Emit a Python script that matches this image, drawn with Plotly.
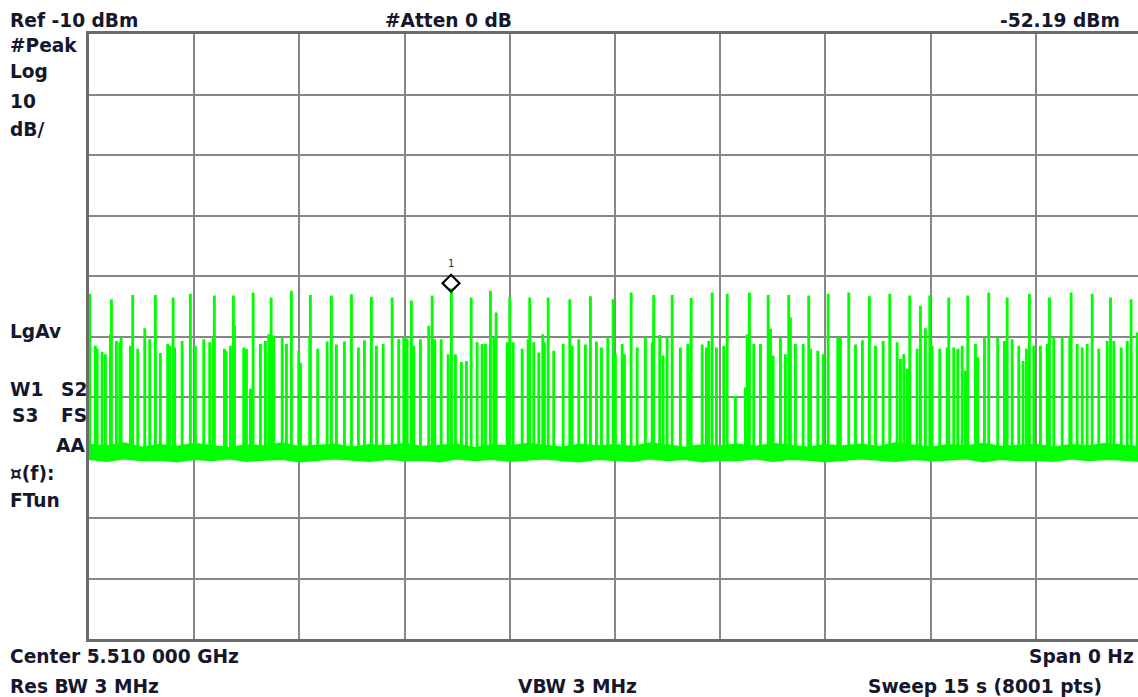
import plotly.graph_objects as go
import numpy as np

# ---------------- data ----------------
REF_LEVEL_DBM = -10
DB_PER_DIV = 10
SWEEP_S = 15

spike_times_s = [
    0.005, 0.086, 0.110, 0.181, 0.228, 0.299, 0.314, 0.385, 0.432, 0.452,
    0.585, 0.617, 0.689, 0.789, 0.860, 0.941, 1.012, 1.116, 1.145, 1.193,
    1.216, 1.322, 1.440, 1.511, 1.630, 1.715, 1.764, 1.782, 1.925, 1.949,
    2.011, 2.053, 2.068, 2.200, 2.239, 2.296, 2.334, 2.438, 2.510, 2.557,
    2.591, 2.628, 2.748, 2.809, 2.880, 2.984, 3.009, 3.141, 3.151, 3.255,
    3.389, 3.451, 3.522, 3.636, 3.736, 3.836, 3.921, 4.021, 4.092, 4.188,
    4.316, 4.410, 4.482, 4.530, 4.591, 4.624, 4.720, 4.838, 4.887, 4.924,
    5.015, 5.115, 5.162, 5.219, 5.304, 5.376, 5.443, 5.528, 5.600, 5.647,
    5.718, 5.765, 5.799, 5.956, 5.993, 6.042, 6.170, 6.255, 6.278, 6.335,
    6.407, 6.464, 6.488, 6.541, 6.620, 6.755, 6.849, 6.883, 6.977, 7.072,
    7.144, 7.229, 7.301, 7.391, 7.467, 7.500, 7.596, 7.629, 7.724, 7.810,
    7.928, 8.024, 8.046, 8.132, 8.180, 8.237, 8.309, 8.427, 8.531, 8.560,
    8.580, 8.737, 8.798, 8.831, 8.879, 8.940, 9.044, 9.093, 9.211, 9.354,
    9.378, 9.411, 9.472, 9.568, 9.678, 9.711, 9.749, 9.853, 9.924, 9.971,
    9.995, 10.067, 10.177, 10.256, 10.281, 10.385, 10.462, 10.533, 10.670, 10.708,
    10.827, 10.923, 11.022, 11.122, 11.208, 11.317, 11.412, 11.517, 11.564, 11.611,
    11.660, 11.697, 11.802, 11.849, 11.920, 11.982, 12.016, 12.124, 12.230, 12.253,
    12.324, 12.381, 12.444, 12.491, 12.524, 12.634, 12.667, 12.762, 12.823, 12.951,
    13.047, 13.086, 13.157, 13.251, 13.313, 13.361, 13.403, 13.465, 13.560, 13.656,
    13.689, 13.750, 13.870, 13.978, 13.998, 14.084, 14.155, 14.226, 14.298, 14.392,
    14.512, 14.559, 14.606, 14.712, 14.798, 14.853, 14.939,
]

spike_peaks_dbm = [
    -53.1, -61.7, -62.2, -62.7, -63.1, -59.8, -54.0, -60.9, -61.1, -60.3,
    -61.7, -53.3, -62.2, -58.8, -60.6, -53.3, -62.9, -61.4, -61.7, -53.7,
    -62.0, -60.9, -53.1, -61.7, -60.6, -61.1, -60.3, -53.4, -62.2, -62.5,
    -61.7, -53.4, -58.4, -62.0, -62.2, -68.8, -52.9, -61.4, -60.9, -59.8,
    -53.7, -60.0, -60.3, -61.4, -52.6, -62.5, -64.5, -60.3, -53.3, -62.2,
    -61.0, -53.4, -61.5, -61.0, -53.2, -62.0, -60.8, -53.6, -61.7, -61.4,
    -53.7, -60.6, -60.3, -60.5, -54.2, -61.7, -60.6, -58.4, -53.4, -60.6,
    -60.6, -63.1, -52.2, -63.1, -64.4, -64.2, -53.7, -61.1, -61.4, -61.4,
    -52.6, -60.3, -56.2, -61.1, -53.7, -61.1, -62.2, -60.6, -53.7, -61.1,
    -62.8, -59.8, -61.1, -53.7, -62.5, -61.4, -54.0, -61.7, -60.6, -61.5,
    -53.5, -61.0, -62.0, -60.3, -54.0, -63.1, -61.4, -63.1, -52.9, -62.0,
    -60.3, -61.1, -53.3, -59.9, -63.3, -60.3, -53.3, -62.0, -61.4, -66.1,
    -53.8, -61.5, -62.0, -60.9, -52.9, -62.0, -61.7, -53.1, -70.0, -68.6,
    -59.8, -52.9, -61.4, -61.4, -53.3, -58.9, -63.3, -60.3, -63.1, -53.3,
    -57.0, -61.4, -61.4, -53.4, -62.2, -62.5, -63.1, -53.1, -60.3, -60.3,
    -52.9, -61.5, -60.8, -53.5, -61.7, -60.9, -53.1, -61.1, -63.9, -63.1,
    -65.5, -53.4, -62.2, -55.1, -58.8, -53.4, -61.7, -62.2, -62.0, -53.7,
    -62.0, -62.2, -61.7, -65.8, -53.4, -61.4, -63.6, -60.3, -52.9, -60.3,
    -60.9, -53.7, -60.6, -61.7, -64.2, -62.2, -53.1, -61.7, -61.7, -61.4,
    -53.7, -60.3, -60.3, -60.3, -52.9, -61.4, -62.0, -61.4, -53.1, -62.2,
    -60.9, -53.7, -60.9, -62.0, -60.9, -54.0, -59.5,
]

floor_level_dbm = -79.2

# noise-floor band edges, read every 0.25 s across the sweep
band_top_dbm = [
    -77.8, -78.1, -77.6, -78.3, -77.9, -78.2, -77.7, -78.0, -78.4, -77.9,
    -78.1, -77.6, -78.2, -78.0, -77.8, -78.3, -77.9, -78.1, -77.7, -78.2,
    -78.0, -77.8, -78.4, -77.9, -78.1, -77.7, -78.0, -78.3, -77.8, -78.1,
    -77.9, -78.2, -77.6, -78.0, -78.3, -77.9, -78.1, -77.8, -78.2, -77.7,
    -78.0, -78.3, -77.9, -78.1, -77.8, -78.2, -77.6, -78.0, -78.3, -77.9,
    -78.1, -77.7, -78.2, -78.0, -77.8, -78.3, -77.9, -78.1, -77.7, -78.0,
    -78.2,
]
band_bottom_dbm = [
    -80.3, -80.6, -80.2, -80.5, -80.4, -80.7, -80.3, -80.5, -80.2, -80.6,
    -80.4, -80.3, -80.7, -80.5, -80.2, -80.4, -80.6, -80.3, -80.5, -80.4,
    -80.7, -80.2, -80.5, -80.3, -80.6, -80.4, -80.2, -80.5, -80.7, -80.3,
    -80.4, -80.6, -80.2, -80.5, -80.3, -80.7, -80.4, -80.5, -80.2, -80.6,
    -80.3, -80.4, -80.7, -80.5, -80.2, -80.4, -80.6, -80.3, -80.5, -80.4,
    -80.2, -80.7, -80.3, -80.5, -80.4, -80.6, -80.2, -80.5, -80.3, -80.4,
    -80.6,
]

marker_time_s = 5.162
marker_level_dbm = -52.19
marker_label = "1"

# ---------------- styles ----------------
W, H = 1138, 697
L, T, R, B = 89, 34, 1138, 639
GREEN = "#00FF00"
TEXT_COLOR = "#16162c"
FONT = dict(family="DejaVu Sans", size=18.6, color=TEXT_COLOR, weight="bold")
SPIKE_W = 0.012
MARKER_OFFSET_DB = 1.0
# the visible screen cuts the 10th division slightly
X_MAX = SWEEP_S * (R - L) / 1052.0

n = min(len(spike_times_s), len(spike_peaks_dbm))
xs, ys = [], []
for t, p in zip(spike_times_s[:n], spike_peaks_dbm[:n]):
    xs += [t, t, t + SPIKE_W, t + SPIKE_W]
    ys += [floor_level_dbm, p, p, floor_level_dbm]

nb = min(len(band_top_dbm), len(band_bottom_dbm))
band_t = list(np.linspace(0, SWEEP_S, nb))

fig = go.Figure()
fig.add_trace(go.Scatter(x=band_t, y=band_bottom_dbm[:nb], mode="lines",
                         line=dict(color=GREEN, width=1.5), hoverinfo="skip"))
fig.add_trace(go.Scatter(x=band_t, y=band_top_dbm[:nb], mode="lines", fill="tonexty",
                         fillcolor=GREEN, line=dict(color=GREEN, width=1.5), hoverinfo="skip"))
fig.add_trace(go.Scatter(x=xs, y=ys, mode="lines", line=dict(color=GREEN, width=2)))
fig.add_trace(go.Scatter(x=[marker_time_s], y=[marker_level_dbm + MARKER_OFFSET_DB],
                         mode="markers",
                         marker=dict(symbol="diamond-open", size=13, color="black",
                                     line=dict(width=2.2, color="black"))))

fig.add_annotation(x=marker_time_s, y=marker_level_dbm, xref="x", yref="y",
                   text=marker_label, showarrow=False, yshift=26,
                   font=dict(family="DejaVu Sans", size=10, color="#3a2440"))


def px(x):
    return (x - L) / (R - L)


def py(y):
    return (B - y) / (B - T)


labels = [
    ("Ref -10 dBm", 9.5, 20, "left"),
    ("#Atten 0 dB", 448, 20, "center"),
    ("-52.19 dBm", 1119.5, 20, "right"),
    ("#Peak", 9.5, 46, "left"),
    ("Log", 9.5, 71.5, "left"),
    ("10", 9.5, 101.7, "left"),
    ("dB/", 9.5, 129.7, "left"),
    ("LgAv", 9.5, 331.7, "left"),
    ("W1", 9.5, 389.7, "left"),
    ("S2", 86.5, 389.7, "right"),
    ("S3", 11.7, 415, "left"),
    ("FS", 86.5, 415, "right"),
    ("AA", 85, 445, "right"),
    ("¤(f):", 9.5, 473, "left"),
    ("FTun", 9.5, 500, "left"),
    ("Center 5.510 000 GHz", 9.5, 656.7, "left"),
    ("Res BW 3 MHz", 9.5, 686.3, "left"),
    ("VBW 3 MHz", 577, 686.3, "center"),
    ("Span 0 Hz", 1133.5, 656.3, "right"),
    ("Sweep 15 s (8001 pts)", 1102, 686.3, "right"),
]
for text, x, y, anc in labels:
    fig.add_annotation(x=px(x), y=py(y), xref="paper", yref="paper", text=text,
                       showarrow=False, xanchor=anc, yanchor="middle",
                       borderpad=0, borderwidth=0, font=FONT)

fig.update_layout(
    width=W, height=H,
    margin=dict(l=L, r=W - R, t=T, b=H - B, pad=0),
    paper_bgcolor="white", plot_bgcolor="white",
    showlegend=False,
    xaxis=dict(range=[0, X_MAX], tick0=0, dtick=SWEEP_S / 10, showticklabels=False,
               ticks="", showgrid=True, gridcolor="#878787", gridwidth=2,
               zeroline=False, showline=True, linecolor="#6b6b6b", linewidth=3,
               mirror=True, fixedrange=True),
    yaxis=dict(range=[REF_LEVEL_DBM - 10 * DB_PER_DIV, REF_LEVEL_DBM], tick0=REF_LEVEL_DBM,
               dtick=DB_PER_DIV, showticklabels=False, ticks="", showgrid=True,
               gridcolor="#878787", gridwidth=2, zeroline=False, showline=True,
               linecolor="#6b6b6b", linewidth=3, mirror=False, fixedrange=True),
)

fig.write_html(
    "out.html",
    config={"displayModeBar": False},
    post_script="document.body.style.margin='0';document.body.style.overflow='hidden';",
)
